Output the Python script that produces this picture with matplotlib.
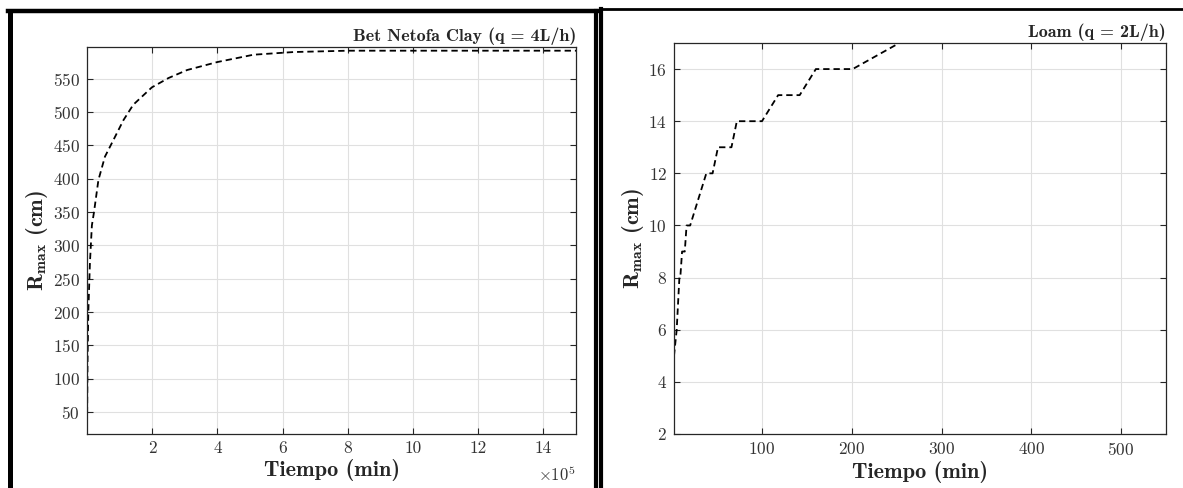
import matplotlib
matplotlib.use("Agg")
import matplotlib.pyplot as plt
from matplotlib.lines import Line2D

plt.rcParams["font.family"] = "serif"
plt.rcParams["font.serif"] = ["cmr10"]
plt.rcParams["mathtext.fontset"] = "custom"
plt.rcParams["mathtext.rm"] = "cmr10"
plt.rcParams["mathtext.bf"] = "cmb10"
plt.rcParams["mathtext.it"] = "cmmi10"
plt.rcParams["axes.formatter.use_mathtext"] = True

# Bet Netofa Clay (q = 4L/h)
clay_t = [0, 1500, 4000, 9000, 15000, 21500, 35000, 55000, 81000, 112000, 142000,
          199000, 250000, 307000, 400000, 511000, 634000, 800000, 1000000, 1500000]
clay_r = [17, 120, 200, 274, 330, 350, 398, 433, 458, 488, 511,
          537, 551, 563, 575, 586, 590, 592, 592, 592]
clay_xticks = [2e5, 4e5, 6e5, 8e5, 10e5, 12e5, 14e5]
clay_xlabels = ["2", "4", "6", "8", "10", "12", "14"]
clay_yticks = [50, 100, 150, 200, 250, 300, 350, 400, 450, 500, 550]

# Loam (q = 2L/h)
loam_t = [2, 5, 8, 9, 11, 14, 16, 20, 38, 45, 51, 66, 72, 100, 118, 142,
          160, 201, 253, 550]
loam_r = [5, 6, 8, 8, 9, 9, 10, 10, 12, 12, 13, 13, 14, 14, 15, 15,
          16, 16, 17, 17]
loam_xticks = [100, 200, 300, 400, 500]
loam_yticks = [2, 4, 6, 8, 10, 12, 14, 16]

dark = "#262626"
fig = plt.figure(figsize=(11.83, 4.88), dpi=100)
W, H = 1183, 488


def style(ax):
    ax.grid(True, color="#e0e0e0", linewidth=0.8)
    ax.set_axisbelow(True)
    ax.tick_params(direction="in", length=4, width=0.8, colors=dark,
                   labelcolor="#333333", labelsize=12.5, top=True, right=True,
                   pad=5)
    for s in ax.spines.values():
        s.set_color(dark)
        s.set_linewidth(0.9)


def labels(ax, title):
    ax.set_xlabel("Tiempo (min)", fontfamily="cmb10", fontsize=16, color=dark,
                  labelpad=2)
    ax.set_ylabel(r"R$_{\mathbf{max}}$ (cm)", fontfamily="cmb10", fontsize=16,
                  color=dark, labelpad=2)
    ax.set_title(title, loc="right", fontfamily="cmb10", fontsize=13,
                 color=dark, pad=4)


ax1 = fig.add_axes([87 / W, 1 - 434 / H, 489 / W, 387.3 / H])
ax1.plot(clay_t, clay_r, color="k", linestyle="--", linewidth=1.3, dashes=(3.5, 2.2))
ax1.set_xlim(0, 1.5e6)
ax1.set_ylim(17, 598)
ax1.set_xticks(clay_xticks)
ax1.set_xticklabels(clay_xlabels)
ax1.set_yticks(clay_yticks)
style(ax1)
labels(ax1, "Bet Netofa Clay (q = 4L/h)")
ax1.text(1.0, -0.08, r"$\times 10^{5}$", transform=ax1.transAxes, ha="right",
         va="top", fontsize=12, color="#333333")

ax2 = fig.add_axes([674 / W, 1 - 434 / H, 492 / W, 391 / H])
ax2.plot(loam_t, loam_r, color="k", linestyle="--", linewidth=1.3, dashes=(3.5, 2.2))
ax2.set_xlim(2, 550)
ax2.set_ylim(2, 17)
ax2.set_xticks(loam_xticks)
ax2.set_yticks(loam_yticks)
style(ax2)
labels(ax2, "Loam (q = 2L/h)")


# panel frames
def px_line(xs, ys, lw):
    fig.add_artist(Line2D([x / W for x in xs], [1 - y / H for y in ys],
                          transform=fig.transFigure, color="k", linewidth=lw))


px_line([9.5, 9.5], [11, 490], 3.6)
px_line([8, 597], [11, 11], 3.2)
px_line([596, 596], [11, 490], 3.0)
px_line([601, 601], [9, 490], 3.0)
px_line([600, 1185], [9, 9], 2.0)

fig.savefig("out.png", dpi=100)
